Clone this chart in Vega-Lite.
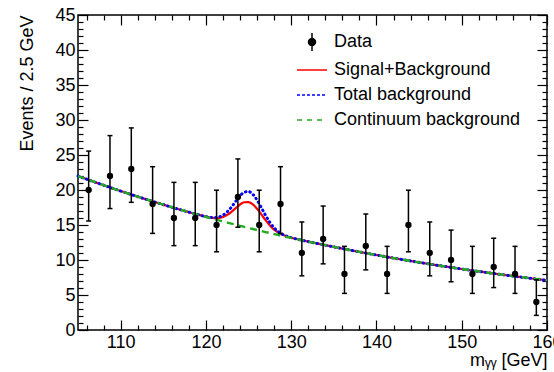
{
  "$schema": "https://vega.github.io/schema/vega-lite/v6.json",
  "width": 469,
  "height": 315,
  "autosize": {"type": "none"},
  "padding": {"left": 78, "top": 15, "right": 7, "bottom": 42},
  "config": {
    "view": {"stroke": "black", "strokeWidth": 1.5},
    "axis": {"domain": false, "ticks": false, "gridColor": "black", "gridOpacity": 1, "gridWidth": 1.2, "zindex": 1},
    "legend": {
      "orient": "none",
      "legendX": 218,
      "legendY": 11,
      "padding": 0,
      "labelFont": "Liberation Sans",
      "labelFontSize": 18,
      "labelColor": "black",
      "labelOffset": 6,
      "labelLimit": 400,
      "symbolSize": 900,
      "rowPadding": -2
    }
  },
  "datasets": {
    "obs": [
      {"m": 106.25, "n": 20, "lo": 15.57, "hi": 25.56},
      {"m": 108.75, "n": 22, "lo": 17.35, "hi": 27.77},
      {"m": 111.25, "n": 23, "lo": 18.24, "hi": 28.87},
      {"m": 113.75, "n": 18, "lo": 13.80, "hi": 23.33},
      {"m": 116.25, "n": 16, "lo": 12.05, "hi": 21.09},
      {"m": 118.75, "n": 16, "lo": 12.05, "hi": 21.09},
      {"m": 121.25, "n": 15, "lo": 11.17, "hi": 19.97},
      {"m": 123.75, "n": 19, "lo": 14.68, "hi": 24.44},
      {"m": 126.25, "n": 15, "lo": 11.17, "hi": 19.97},
      {"m": 128.75, "n": 18, "lo": 13.80, "hi": 23.33},
      {"m": 131.25, "n": 11, "lo": 7.74, "hi": 15.43},
      {"m": 133.75, "n": 13, "lo": 9.45, "hi": 17.71},
      {"m": 136.25, "n": 8, "lo": 5.23, "hi": 11.95},
      {"m": 138.75, "n": 12, "lo": 8.59, "hi": 16.57},
      {"m": 141.25, "n": 8, "lo": 5.23, "hi": 11.95},
      {"m": 143.75, "n": 15, "lo": 11.17, "hi": 19.97},
      {"m": 146.25, "n": 11, "lo": 7.74, "hi": 15.43},
      {"m": 148.75, "n": 10, "lo": 6.89, "hi": 14.27},
      {"m": 151.25, "n": 8, "lo": 5.23, "hi": 11.95},
      {"m": 153.75, "n": 9, "lo": 6.06, "hi": 13.11},
      {"m": 156.25, "n": 8, "lo": 5.23, "hi": 11.95},
      {"m": 158.75, "n": 4, "lo": 2.09, "hi": 7.16}
    ],
    "fit": [
      {"m": 105, "cont": 22.000, "sb": 22.000, "tot": 22.000},
      {"m": 106, "cont": 21.552, "sb": 21.552, "tot": 21.552},
      {"m": 107, "cont": 21.113, "sb": 21.113, "tot": 21.113},
      {"m": 108, "cont": 20.684, "sb": 20.684, "tot": 20.684},
      {"m": 109, "cont": 20.263, "sb": 20.263, "tot": 20.263},
      {"m": 110, "cont": 19.850, "sb": 19.850, "tot": 19.850},
      {"m": 111, "cont": 19.446, "sb": 19.446, "tot": 19.446},
      {"m": 112, "cont": 19.050, "sb": 19.050, "tot": 19.050},
      {"m": 113, "cont": 18.662, "sb": 18.662, "tot": 18.662},
      {"m": 114, "cont": 18.282, "sb": 18.282, "tot": 18.282},
      {"m": 115, "cont": 17.910, "sb": 17.910, "tot": 17.910},
      {"m": 116, "cont": 17.545, "sb": 17.545, "tot": 17.545},
      {"m": 117, "cont": 17.188, "sb": 17.188, "tot": 17.188},
      {"m": 118, "cont": 16.838, "sb": 16.838, "tot": 16.838},
      {"m": 119, "cont": 16.495, "sb": 16.498, "tot": 16.500},
      {"m": 119.5, "cont": 16.326, "sb": 16.336, "tot": 16.340},
      {"m": 120, "cont": 16.159, "sb": 16.187, "tot": 16.199},
      {"m": 120.5, "cont": 15.993, "sb": 16.064, "tot": 16.093},
      {"m": 121, "cont": 15.830, "sb": 15.992, "tot": 16.058},
      {"m": 121.5, "cont": 15.668, "sb": 16.006, "tot": 16.143},
      {"m": 122, "cont": 15.508, "sb": 16.144, "tot": 16.402},
      {"m": 122.5, "cont": 15.349, "sb": 16.441, "tot": 16.883},
      {"m": 123, "cont": 15.192, "sb": 16.887, "tot": 17.574},
      {"m": 123.5, "cont": 15.036, "sb": 17.419, "tot": 18.385},
      {"m": 124, "cont": 14.883, "sb": 17.928, "tot": 19.163},
      {"m": 124.5, "cont": 14.731, "sb": 18.253, "tot": 19.681},
      {"m": 125, "cont": 14.580, "sb": 18.280, "tot": 19.780},
      {"m": 125.5, "cont": 14.430, "sb": 17.952, "tot": 19.380},
      {"m": 126, "cont": 14.283, "sb": 17.328, "tot": 18.563},
      {"m": 126.5, "cont": 14.137, "sb": 16.520, "tot": 17.486},
      {"m": 127, "cont": 13.992, "sb": 15.687, "tot": 16.374},
      {"m": 127.5, "cont": 13.849, "sb": 14.941, "tot": 15.383},
      {"m": 128, "cont": 13.707, "sb": 14.343, "tot": 14.601},
      {"m": 128.5, "cont": 13.567, "sb": 13.905, "tot": 14.042},
      {"m": 129, "cont": 13.428, "sb": 13.590, "tot": 13.656},
      {"m": 129.5, "cont": 13.291, "sb": 13.362, "tot": 13.391},
      {"m": 130, "cont": 13.155, "sb": 13.183, "tot": 13.195},
      {"m": 130.5, "cont": 13.020, "sb": 13.030, "tot": 13.034},
      {"m": 131, "cont": 12.887, "sb": 12.890, "tot": 12.892},
      {"m": 132, "cont": 12.624, "sb": 12.624, "tot": 12.624},
      {"m": 133, "cont": 12.367, "sb": 12.367, "tot": 12.367},
      {"m": 134, "cont": 12.115, "sb": 12.115, "tot": 12.115},
      {"m": 135, "cont": 11.869, "sb": 11.869, "tot": 11.869},
      {"m": 136, "cont": 11.627, "sb": 11.627, "tot": 11.627},
      {"m": 137, "cont": 11.390, "sb": 11.390, "tot": 11.390},
      {"m": 138, "cont": 11.158, "sb": 11.158, "tot": 11.158},
      {"m": 139, "cont": 10.931, "sb": 10.931, "tot": 10.931},
      {"m": 140, "cont": 10.709, "sb": 10.709, "tot": 10.709},
      {"m": 141, "cont": 10.491, "sb": 10.491, "tot": 10.491},
      {"m": 142, "cont": 10.277, "sb": 10.277, "tot": 10.277},
      {"m": 143, "cont": 10.068, "sb": 10.068, "tot": 10.068},
      {"m": 144, "cont": 9.863, "sb": 9.863, "tot": 9.863},
      {"m": 145, "cont": 9.662, "sb": 9.662, "tot": 9.662},
      {"m": 146, "cont": 9.465, "sb": 9.465, "tot": 9.465},
      {"m": 147, "cont": 9.273, "sb": 9.273, "tot": 9.273},
      {"m": 148, "cont": 9.084, "sb": 9.084, "tot": 9.084},
      {"m": 149, "cont": 8.899, "sb": 8.899, "tot": 8.899},
      {"m": 150, "cont": 8.718, "sb": 8.718, "tot": 8.718},
      {"m": 151, "cont": 8.540, "sb": 8.540, "tot": 8.540},
      {"m": 152, "cont": 8.366, "sb": 8.366, "tot": 8.366},
      {"m": 153, "cont": 8.196, "sb": 8.196, "tot": 8.196},
      {"m": 154, "cont": 8.029, "sb": 8.029, "tot": 8.029},
      {"m": 155, "cont": 7.866, "sb": 7.866, "tot": 7.866},
      {"m": 156, "cont": 7.706, "sb": 7.706, "tot": 7.706},
      {"m": 157, "cont": 7.549, "sb": 7.549, "tot": 7.549},
      {"m": 158, "cont": 7.395, "sb": 7.395, "tot": 7.395},
      {"m": 159, "cont": 7.245, "sb": 7.245, "tot": 7.245},
      {"m": 160, "cont": 7.097, "sb": 7.097, "tot": 7.097}
    ]
  },
  "resolve": {"axis": {"x": "independent", "y": "independent"}},
  "layer": [
    {
      "data": {"name": "fit"},
      "mark": {"type": "line", "interpolate": "monotone", "strokeWidth": 2.2},
      "encoding": {
        "x": {
          "field": "m", "type": "quantitative",
          "scale": {"domain": [105, 160], "nice": false, "zero": false},
          "axis": {
            "orient": "bottom",
            "values": [110, 120, 130, 140, 150, 160],
            "grid": true,
            "gridDash": [10, 2000],
            "labelPadding": 3,
            "labelFlush": false,
            "labelOverlap": false,
            "labelFont": "Liberation Sans",
            "labelFontSize": 18,
            "labelColor": "black",
            "title": "mᵧᵧ [GeV]",
            "titleFont": "Liberation Sans",
            "titleFontSize": 18,
            "titleFontWeight": "normal",
            "titleColor": "black",
            "titleAnchor": "end",
            "titlePadding": 0
          }
        },
        "y": {
          "field": "sb", "type": "quantitative",
          "scale": {"domain": [0, 45], "nice": false, "zero": false},
          "axis": {
            "orient": "left",
            "values": [0, 5, 10, 15, 20, 25, 30, 35, 40, 45],
            "grid": true,
            "gridDash": [10, 2000],
            "labelPadding": 3,
            "labelOverlap": false,
            "labelFont": "Liberation Sans",
            "labelFontSize": 18,
            "labelColor": "black",
            "title": "Events / 2.5 GeV",
            "titleFont": "Liberation Sans",
            "titleFontSize": 18,
            "titleFontWeight": "normal",
            "titleColor": "black",
            "titleAnchor": "end",
            "titlePadding": 18
          }
        },
        "color": {
          "datum": "Signal+Background",
          "scale": {
            "domain": ["Data", "Signal+Background", "Total background", "Continuum background"],
            "range": ["black", "#ff0000", "#0000ff", "#22aa22"]
          },
          "legend": {
            "title": null,
            "encode": {
              "symbols": {
                "update": {
                  "shape": {"signal": "datum.value === 'Data' ? 'M0,-0.6L0,0.6M0.23,0A0.23,0.23,0,1,1,-0.23,0A0.23,0.23,0,1,1,0.23,0Z' : 'stroke'"},
                  "stroke": {"scale": "color", "field": "value"},
                  "fill": {"signal": "datum.value === 'Data' ? 'black' : 'transparent'"},
                  "strokeDash": {"signal": "datum.value === 'Total background' ? [3, 2] : datum.value === 'Continuum background' ? [5, 5] : [1, 0]"},
                  "strokeWidth": {"value": 1.5},
                  "opacity": {"value": 1},
                  "size": {"value": 900}
                }
              }
            }
          }
        }
      }
    },
    {
      "data": {"name": "fit"},
      "mark": {"type": "line", "interpolate": "monotone", "strokeWidth": 3, "strokeDash": [0.5, 4], "strokeCap": "round"},
      "encoding": {
        "x": {
          "field": "m", "type": "quantitative",
          "axis": {
            "orient": "bottom",
            "values": [106, 108, 112, 114, 116, 118, 122, 124, 126, 128, 132, 134, 136, 138, 142, 144, 146, 148, 152, 154, 156, 158],
            "grid": true,
            "gridDash": [5, 2000],
            "labels": false,
            "title": null
          }
        },
        "y": {
          "field": "tot", "type": "quantitative",
          "axis": {
            "orient": "left",
            "values": [1, 2, 3, 4, 6, 7, 8, 9, 11, 12, 13, 14, 16, 17, 18, 19, 21, 22, 23, 24, 26, 27, 28, 29, 31, 32, 33, 34, 36, 37, 38, 39, 41, 42, 43, 44],
            "grid": true,
            "gridDash": [5, 2000],
            "labels": false,
            "title": null
          }
        },
        "color": {"datum": "Total background"}
      }
    },
    {
      "data": {"name": "fit"},
      "mark": {"type": "line", "interpolate": "monotone", "strokeWidth": 2.4, "strokeDash": [7, 5]},
      "encoding": {
        "x": {
          "field": "m", "type": "quantitative",
          "axis": {
            "orient": "top",
            "values": [110, 120, 130, 140, 150, 160],
            "grid": true,
            "gridDash": [10, 2000],
            "labels": false,
            "title": null
          }
        },
        "y": {
          "field": "cont", "type": "quantitative",
          "axis": {
            "orient": "right",
            "values": [0, 5, 10, 15, 20, 25, 30, 35, 40, 45],
            "grid": true,
            "gridDash": [10, 2000],
            "labels": false,
            "title": null
          }
        },
        "color": {"datum": "Continuum background"}
      }
    },
    {
      "data": {"name": "obs"},
      "mark": {"type": "rule", "strokeWidth": 1.5},
      "encoding": {
        "x": {
          "field": "m", "type": "quantitative",
          "axis": {
            "orient": "top",
            "values": [106, 108, 112, 114, 116, 118, 122, 124, 126, 128, 132, 134, 136, 138, 142, 144, 146, 148, 152, 154, 156, 158],
            "grid": true,
            "gridDash": [5, 2000],
            "labels": false,
            "title": null
          }
        },
        "y": {
          "field": "lo", "type": "quantitative",
          "axis": {
            "orient": "right",
            "values": [1, 2, 3, 4, 6, 7, 8, 9, 11, 12, 13, 14, 16, 17, 18, 19, 21, 22, 23, 24, 26, 27, 28, 29, 31, 32, 33, 34, 36, 37, 38, 39, 41, 42, 43, 44],
            "grid": true,
            "gridDash": [5, 2000],
            "labels": false,
            "title": null
          }
        },
        "y2": {"field": "hi"},
        "color": {"datum": "Data"}
      }
    },
    {
      "data": {"name": "obs"},
      "mark": {"type": "point", "shape": "stroke", "filled": false, "size": 25, "strokeWidth": 1.5, "opacity": 1},
      "encoding": {
        "x": {"field": "m", "type": "quantitative", "axis": null},
        "y": {"field": "lo", "type": "quantitative", "axis": null},
        "color": {"datum": "Data"}
      }
    },
    {
      "data": {"name": "obs"},
      "mark": {"type": "point", "shape": "stroke", "filled": false, "size": 25, "strokeWidth": 1.5, "opacity": 1},
      "encoding": {
        "x": {"field": "m", "type": "quantitative", "axis": null},
        "y": {"field": "hi", "type": "quantitative", "axis": null},
        "color": {"datum": "Data"}
      }
    },
    {
      "data": {"name": "obs"},
      "mark": {"type": "point", "shape": "circle", "filled": true, "size": 40, "opacity": 1},
      "encoding": {
        "x": {"field": "m", "type": "quantitative", "axis": null},
        "y": {"field": "n", "type": "quantitative", "axis": null},
        "color": {"datum": "Data"}
      }
    },
    {
      "mark": {"type": "text", "text": "ATLAS", "font": "Liberation Sans", "align": "left", "baseline": "alphabetic", "fontSize": 19, "fontWeight": "bold", "fontStyle": "italic", "color": "black"},
      "encoding": {
        "x": {"datum": 108.4, "type": "quantitative", "axis": null},
        "y": {"datum": 41.4, "type": "quantitative", "axis": null}
      }
    },
    {
      "mark": {"type": "text", "text": "√s = 13 TeV, 139 fb⁻¹", "font": "Liberation Sans", "align": "left", "baseline": "alphabetic", "fontSize": 18, "color": "black"},
      "encoding": {
        "x": {"datum": 108.4, "type": "quantitative", "axis": null},
        "y": {"datum": 37.85, "type": "quantitative", "axis": null}
      }
    },
    {
      "mark": {"type": "text", "text": "SR: ≥ 3b", "font": "Liberation Sans", "align": "left", "baseline": "alphabetic", "fontSize": 18, "color": "black"},
      "encoding": {
        "x": {"datum": 108.4, "type": "quantitative", "axis": null},
        "y": {"datum": 34.3, "type": "quantitative", "axis": null}
      }
    },
    {
      "mark": {"type": "text", "text": "S+B fit", "font": "Liberation Sans", "align": "left", "baseline": "alphabetic", "fontSize": 18, "color": "black"},
      "encoding": {
        "x": {"datum": 108.4, "type": "quantitative", "axis": null},
        "y": {"datum": 30.6, "type": "quantitative", "axis": null}
      }
    }
  ]
}
